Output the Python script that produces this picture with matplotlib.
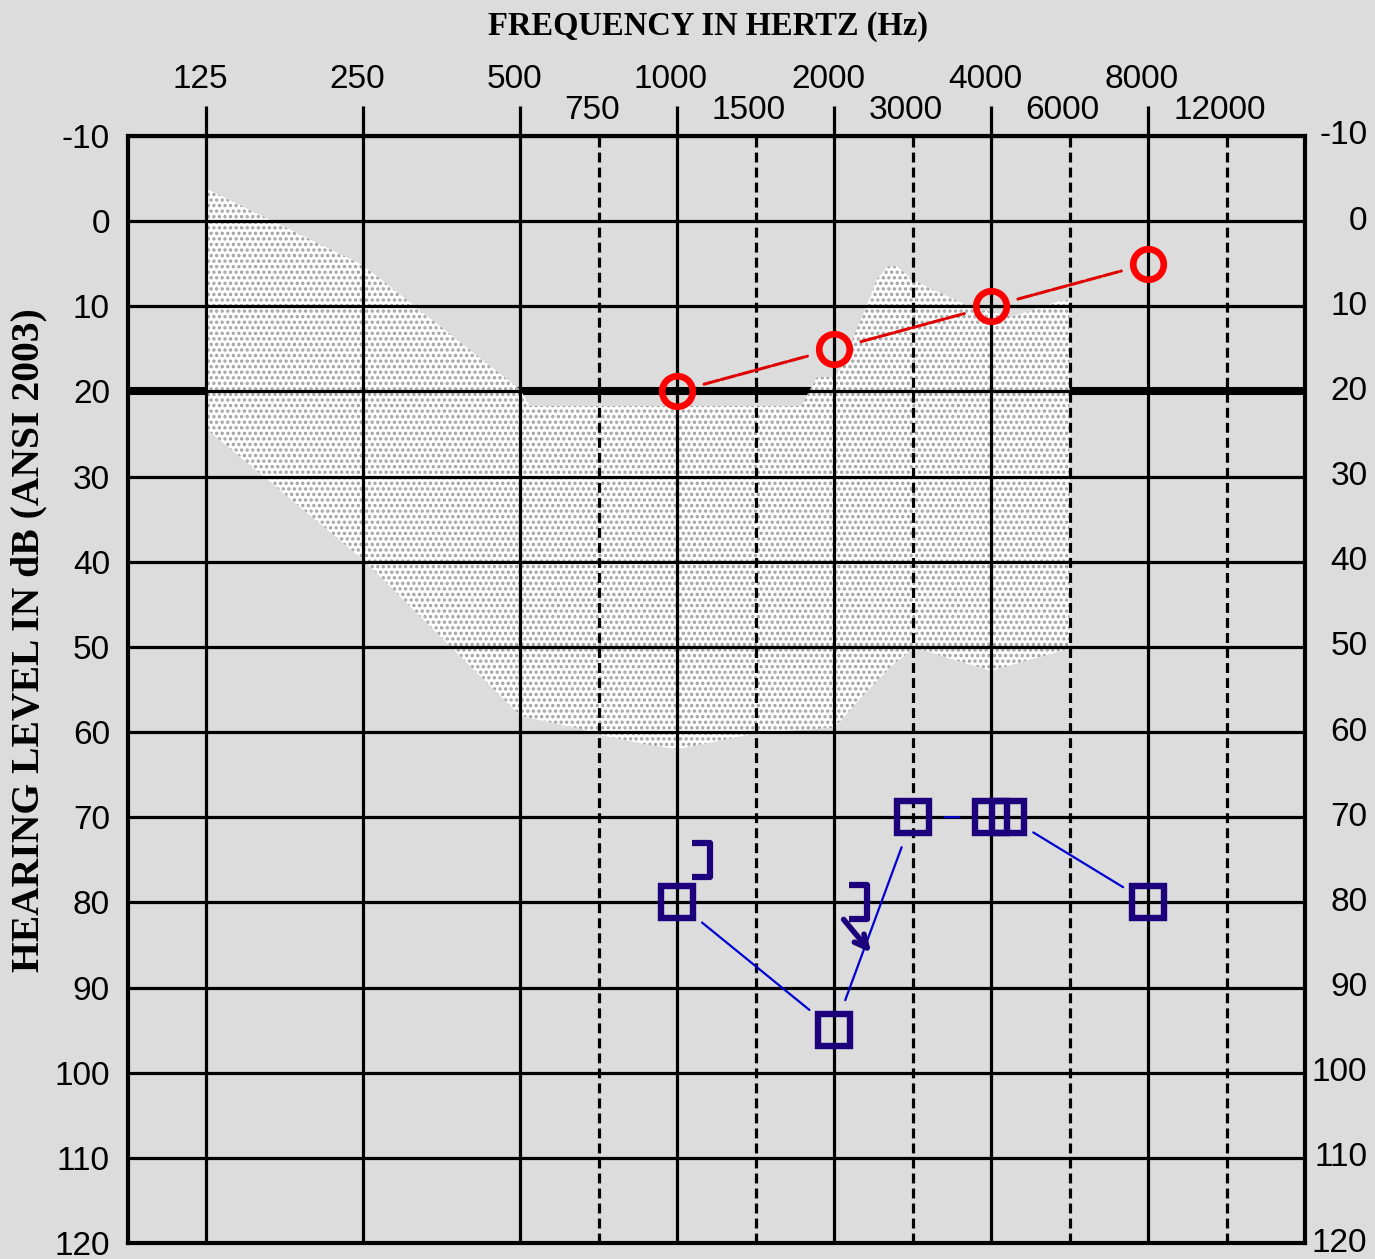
import matplotlib.pyplot as plt
import numpy as np
from matplotlib.path import Path

# frequency axis: octaves on solid lines, half octaves on dashed lines
octave_freqs = [125, 250, 500, 1000, 2000, 4000, 8000]
half_freqs = [750, 1500, 3000, 6000, 12000]
axis_freqs = [125, 250, 500, 750, 1000, 1500, 2000, 3000, 4000, 6000, 8000, 12000]
axis_pos = [0, 1, 2, 2.5, 3, 3.5, 4, 4.5, 5, 5.5, 6, 6.5]
db_ticks = list(range(-10, 121, 10))

# shaded (speech banana) region, upper edge left->right, lower edge right->left
shade_top_hz = [125, 250, 500, 530, 1790, 1890, 2000, 2100, 2280, 2440, 2540, 2680,
                2800, 3000, 3580, 3780, 4000, 4520, 5080, 5720, 6000]
shade_top_db = [-3.8, 5.2, 19.8, 21.7, 21.7, 18.3, 18.3, 17.1, 12.8, 9.4, 6.9, 5.3,
                5.3, 6.9, 9.4, 10.3, 10.6, 11.2, 10.4, 9.4, 9.2]
shade_bot_hz = [6000, 4000, 3700, 3140, 3000, 2760, 2420, 2000, 1500, 1360, 1000,
                905, 750, 700, 500, 250, 125]
shade_bot_db = [50.2, 52.8, 52.0, 50.4, 50.3, 52.0, 55.2, 59.5, 60.1, 60.7, 62.0,
                61.5, 60.3, 59.7, 58.1, 39.8, 24.4]

# right ear air conduction (O)
right_ac_hz = [1000, 2000, 4000, 8000]
right_ac_db = [20, 15, 10, 5]

# left ear masked air conduction (squares)
left_ac_hz = [1000, 2000, 3000, 4000, 8000]
left_ac_db = [80, 95, 70, 70, 80]
left_ac_extra_hz = 4000   # second square drawn beside 4000
left_ac_extra_db = 70

# left ear masked bone conduction (])
left_bc_hz = [1000, 2000]
left_bc_db = [75, 80]
left_bc_noresp = [False, True]

BG = '#dcdcdc'
NAVY = '#1c007c'


def fpos(f):
    return np.interp(f, axis_freqs, axis_pos)


plt.rcParams['hatch.linewidth'] = 1.6

fig = plt.figure(figsize=(13.75, 12.59), dpi=100, facecolor=BG)
ax = fig.add_axes([128 / 1375, 16 / 1259, 1177 / 1375, 1107 / 1259])
ax.set_facecolor(BG)
ax.set_xlim(-0.5, 7.0)
ax.set_ylim(120, -10)

# thick 20 dB line sits under the shading
ax.axhline(20, color='black', lw=5.8, zorder=1)

ax.fill(fpos(shade_top_hz + shade_bot_hz), shade_top_db + shade_bot_db,
        facecolor='white', edgecolor='#a0a0a0', hatch='...', lw=0, zorder=2)

# grid
for d in db_ticks:
    ax.axhline(d, color='black', lw=2.3, zorder=3)
for f in octave_freqs:
    ax.axvline(fpos(f), color='black', lw=2.3, zorder=3)
for f in half_freqs:
    ax.axvline(fpos(f), color='black', lw=2.3, ls=(0, (3.1, 1.6)), zorder=3)

for s in ax.spines.values():
    s.set_linewidth(3)
    s.set_zorder(4)

num_font = dict(family='Liberation Sans', fontsize=24)

ax.set_xticks(fpos(octave_freqs))
ax.tick_params(axis='x', top=True, bottom=False, labeltop=False, labelbottom=False,
               length=21.6, width=2.3, direction='out')
ax.set_yticks(db_ticks)
ax.set_yticklabels([str(d) for d in db_ticks], **num_font)
ax.tick_params(axis='y', length=0, pad=13)

xt = ax.get_xaxis_transform()
for f in octave_freqs:
    ax.text(fpos(f) - 0.04, 1.0506, str(f), transform=xt, ha='center', va='center',
            **num_font)
for f in half_freqs:
    ax.text(fpos(f) - 0.045, 1.0226, str(f), transform=xt, ha='center', va='center',
            **num_font)
yt = ax.get_yaxis_transform()
for d in db_ticks:
    ax.text(1.053, d, str(d), transform=yt, ha='right', va='center', **num_font)


def connect(xs, ys, color, lw, ls, gap):
    for i in range(len(xs) - 1):
        ax.annotate('', xy=(xs[i + 1], ys[i + 1]), xytext=(xs[i], ys[i]), zorder=5,
                    arrowprops=dict(arrowstyle='-', color=color, lw=lw, linestyle=ls,
                                    shrinkA=gap, shrinkB=gap))


# right ear
rx = fpos(right_ac_hz)
connect(rx, right_ac_db, '#e00000', 2.2, (0, (5, 0.8)), 20)
ax.plot(rx, right_ac_db, ls='none', marker='o', ms=22, mew=4.8, mfc='none',
        mec='#ff0000', zorder=6)

# left ear air
lx = fpos(left_ac_hz)
ex = fpos(left_ac_extra_hz) + 0.11
connect(lx[:4], left_ac_db[:4], '#0000d0', 1.6, '-', 23)
connect([ex, lx[4]], [left_ac_extra_db, left_ac_db[4]], '#0000d0', 1.6, '-', 21)
ax.plot(list(lx) + [ex], left_ac_db + [left_ac_extra_db], ls='none', marker='s',
        ms=22.5, mew=4.6, mfc='none', mec=NAVY, zorder=6)

# left ear bone ]
bracket = Path([(-0.52, -1), (0.52, -1), (0.52, 1), (-0.52, 1)],
               [Path.MOVETO, Path.LINETO, Path.LINETO, Path.LINETO])
bx = fpos(left_bc_hz) + 0.15
ax.plot(bx, left_bc_db, ls='none', marker=bracket, ms=24, mew=4.5, mfc='none',
        mec=NAVY, zorder=6)
for x, d, nr in zip(bx, left_bc_db, left_bc_noresp):
    if nr:
        ax.annotate('', xy=(x + 0.085, d + 5.9), xytext=(x - 0.09, d + 2.0), zorder=6,
                    arrowprops=dict(arrowstyle='->,head_length=0.9,head_width=0.45',
                                    color=NAVY, lw=4, shrinkA=0, shrinkB=0))

fig.text(708 / 1375, 1 - 27 / 1259, 'FREQUENCY IN HERTZ (Hz)', ha='center', va='center',
         family='Liberation Serif', weight='bold', fontsize=23.5)
fig.text(29 / 1375, 1 - 640 / 1259, 'HEARING LEVEL IN dB (ANSI 2003)', rotation=90,
         ha='center', va='center', family='Liberation Serif', weight='bold', fontsize=28.5)

fig.savefig('out.png', dpi=100, facecolor=BG)
